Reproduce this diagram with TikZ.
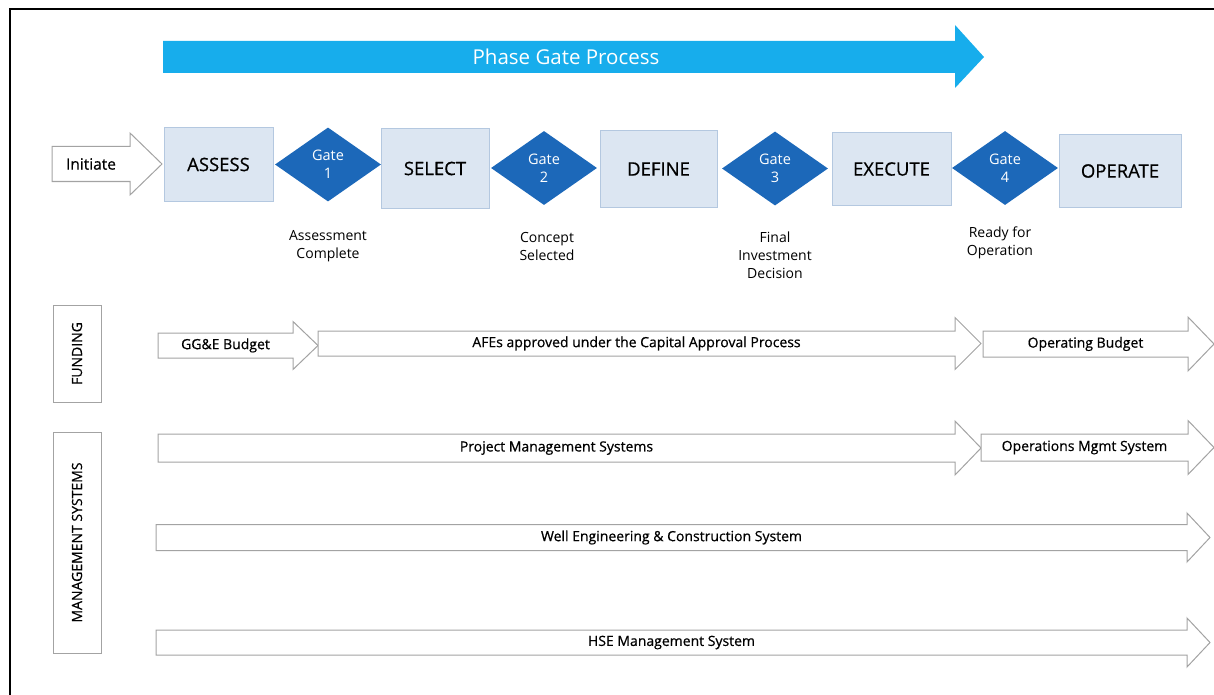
\documentclass[tikz,border=0pt]{standalone}
\usepackage{fontspec}
\setmainfont{Open Sans}
\newfontfamily\heavier{Open Sans}[FakeBold=0.6]
\usetikzlibrary{shapes.geometric}
\newcommand\flowarrow[8]{%
  \draw[band] (#2,#5-#6) -- (#3,#5-#6) -- (#3,#5-#7) -- (#4,#5) -- (#3,#5+#7) -- (#3,#5+#6) -- (#2,#5+#6) -- cycle;
  \node[text=black,font=\heavier\fontsize{14}{17}\selectfont] (#1) at ({(#2+#3)/2},#5) {#8};}
\begin{document}
\begin{tikzpicture}[x=1pt,y=-1pt,font=\fontsize{14}{17}\selectfont]
\definecolor{sky}{HTML}{17ADEC}\definecolor{phasefill}{HTML}{DCE6F2}
\definecolor{phaseline}{HTML}{B4C8E0}\definecolor{gateblue}{HTML}{1C68B9}
\definecolor{outline}{HTML}{A3A3A3}
\tikzset{
  band/.style={draw=outline,fill=white,line width=1},
  phase/.style={draw=phaseline,fill=phasefill,line width=1,inner sep=0,font=\heavier\fontsize{18.5}{22}\selectfont},
  gate/.style={diamond,fill=gateblue,text=white,inner sep=0,align=center,minimum width=106,minimum height=74,font=\fontsize{14.5}{18}\selectfont},
  milestone/.style={align=center,font=\fontsize{14}{18}\selectfont},
  rowlabel/.style={draw=outline,line width=1,rotate=90,inner sep=0,font=\heavier\fontsize{14}{17}\selectfont}
}
\useasboundingbox (0,0) rectangle (1214,695);
\draw[line width=2.5] (10,695) -- (10,9) -- (1214,9);
\fill[sky] (163,41) -- (955,41) -- (955,25) -- (984,57) -- (955,88) -- (955,73) -- (163,73) -- cycle;
\node[text=white,font=\fontsize{20.5}{24}\selectfont] (phasegate) at (566,57) {Phase Gate Process};
\flowarrow{initiate}{52}{130}{162}{164}{17.5}{31}{\fontsize{15.5}{18}\selectfont Initiate}
\node[phase,minimum width=109,minimum height=73] (assess) at (218.5,164.5) {ASSESS};
\node[gate] (g1) at (328,164.5) {Gate\\1};
\node[phase,minimum width=108,minimum height=79] (select) at (435,168.5) {SELECT};
\node[gate] (g2) at (544,168) {Gate\\2};
\node[phase,minimum width=117,minimum height=76] (define) at (658.5,169) {DEFINE};
\node[gate] (g3) at (775,168.5) {Gate\\3};
\node[phase,minimum width=119,minimum height=72] (execute) at (891.5,169) {EXECUTE};
\node[gate] (g4) at (1005,168) {Gate\\4};
\node[phase,minimum width=122,minimum height=72] (operate) at (1120,171) {OPERATE};
\node[milestone] (m1) at (328,246) {Assessment\\Complete};
\node[milestone] (m2) at (547,246) {Concept\\Selected};
\node[milestone] (m3) at (775,255) {Final\\Investment\\Decision};
\node[milestone] (m4) at (1000,243) {Ready for\\Operation};
\node[rowlabel,minimum width=97,minimum height=48] (funding) at (77,353.5) {FUNDING};
\node[rowlabel,minimum width=221,minimum height=48] (mgmt) at (77,542.5) {MANAGEMENT SYSTEMS};
\flowarrow{gge}{158}{293}{318}{345.5}{12.5}{24}{GG\&E Budget}
\flowarrow{afe}{318}{955}{981}{343.5}{12.5}{26}{AFEs approved under the Capital Approval Process}
\flowarrow{opbudget}{983}{1188}{1214}{344}{13}{27}{Operating Budget}
\flowarrow{pms}{158}{955}{981}{448}{14}{27}{Project Management Systems}
\flowarrow{oms}{981}{1188}{1214}{447.5}{13.5}{27}{Operations Mgmt System}
\flowarrow{wecs}{156}{1187}{1210}{537.5}{13}{24.5}{Well Engineering \& Construction System}
\flowarrow{hse}{156}{1187}{1210}{642.5}{12.5}{24.5}{HSE Management System}
\end{tikzpicture}
\end{document}
